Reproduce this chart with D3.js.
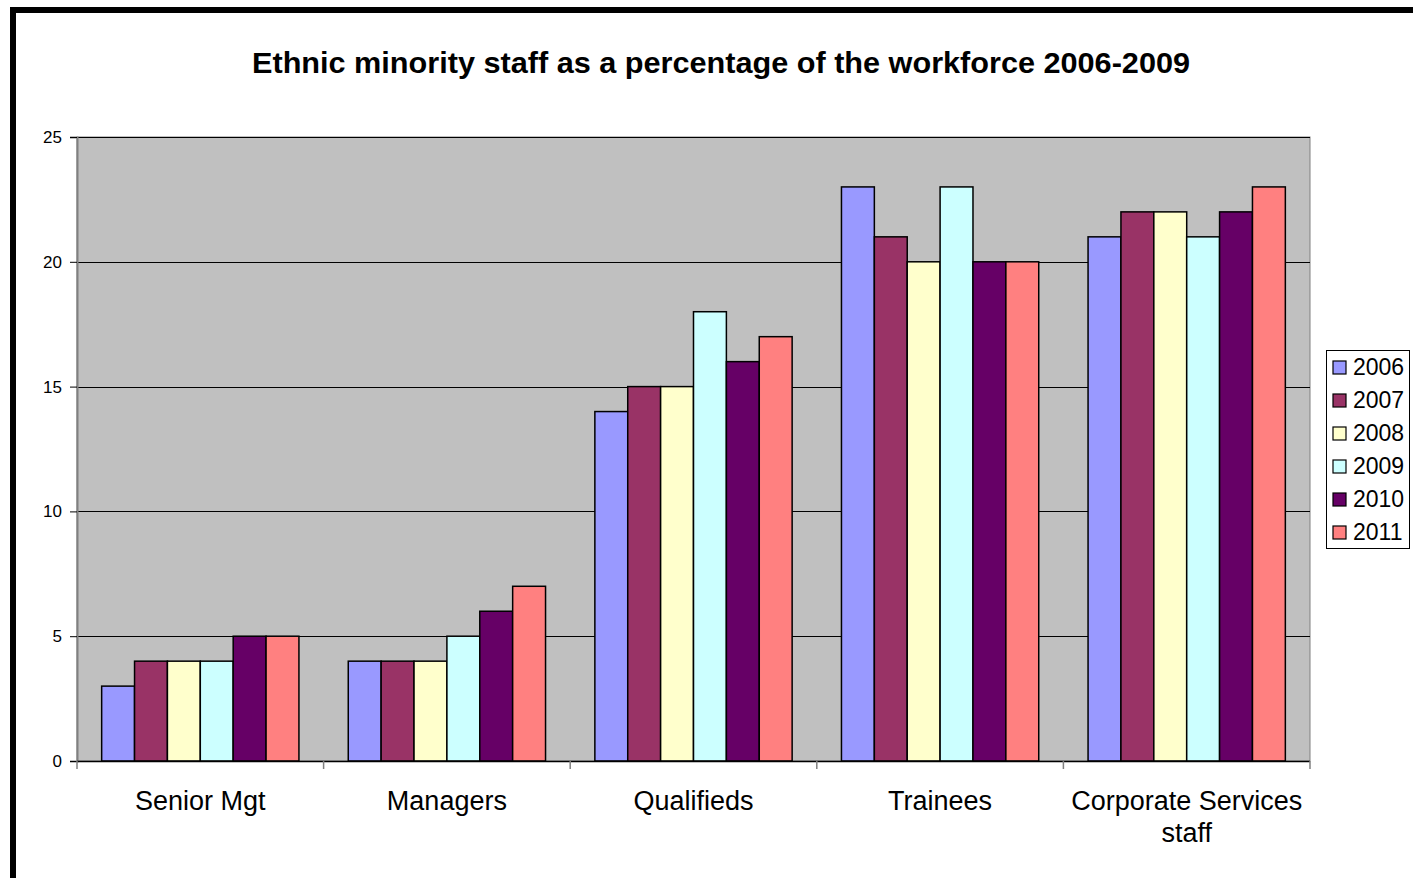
<!DOCTYPE html>
<html lang="en">
<head>
<meta charset="UTF-8">
<script src="https://cdn.jsdelivr.net/npm/d3@7/dist/d3.min.js"></script>
<style>
  body { margin: 0; background: #fff; }
  svg { display: block; font-family: "Liberation Sans", Arial, sans-serif; }
</style>
</head>
<body>
<svg></svg>
<script>
var categories = ["Senior Mgt", "Managers", "Qualifieds", "Trainees", "Corporate Services staff"];
var years = ["2006", "2007", "2008", "2009", "2010", "2011"];
var v2006 = [3, 4, 14, 23, 21];
var v2007 = [4, 4, 15, 21, 22];
var v2008 = [4, 4, 15, 20, 22];
var v2009 = [4, 5, 18, 23, 21];
var v2010 = [5, 6, 16, 20, 22];
var v2011 = [5, 7, 17, 20, 23];
var yTicks = [0, 5, 10, 15, 20, 25];
var colors = ["#9999FF", "#993366", "#FFFFCC", "#CCFFFF", "#660066", "#FF8080"];

var series = [v2006, v2007, v2008, v2009, v2010, v2011];

var W = 1413, H = 878;
var svg = d3.select("svg").attr("width", W).attr("height", H);

// outer frame
svg.append("rect").attr("x", 13).attr("y", 10).attr("width", W + 20).attr("height", H + 20)
  .attr("fill", "#fff").attr("stroke", "#000").attr("stroke-width", 6);

var plot = {left: 77, top: 137, right: 1310, bottom: 761};

svg.append("text").attr("x", 721).attr("y", 73).attr("text-anchor", "middle")
  .attr("font-size", 29).attr("font-weight", "bold")
  .attr("textLength", 938).attr("lengthAdjust", "spacingAndGlyphs")
  .text("Ethnic minority staff as a percentage of the workforce 2006-2009");

var x0 = d3.scaleBand().domain(categories).range([plot.left, plot.right]).paddingInner(0).paddingOuter(0);
var barW = x0.bandwidth() / 7.5;
var x1 = d3.scaleBand().domain(years).range([0, barW * 6]);
var y = d3.scaleLinear().domain([0, 25]).range([plot.bottom, plot.top]);

svg.append("rect").attr("x", plot.left).attr("y", plot.top)
  .attr("width", plot.right - plot.left).attr("height", plot.bottom - plot.top)
  .attr("fill", "#C0C0C0").attr("stroke", "#808080").attr("stroke-width", 1);

// gridlines
svg.append("g").selectAll("line").data(yTicks.slice(1)).enter().append("line")
  .attr("x1", plot.left).attr("x2", plot.right)
  .attr("y1", function(d) { return Math.round(y(d)) + 0.5; })
  .attr("y2", function(d) { return Math.round(y(d)) + 0.5; })
  .attr("stroke", "#000").attr("stroke-width", 1);

// bars
var groups = svg.append("g").selectAll("g").data(categories).enter().append("g")
  .attr("transform", function(d) { return "translate(" + (x0(d) + barW * 0.75) + ",0)"; });

groups.selectAll("rect").data(function(c, ci) {
    return years.map(function(yr, si) { return {yr: yr, v: series[si][ci], i: si}; });
  }).enter().append("rect")
  .attr("x", function(d) { return x1(d.yr); })
  .attr("y", function(d) { return y(d.v); })
  .attr("width", x1.bandwidth())
  .attr("height", function(d) { return plot.bottom - y(d.v); })
  .attr("fill", function(d) { return colors[d.i]; })
  .attr("stroke", "#000").attr("stroke-width", 1.5);

// y axis
var yAxis = d3.axisLeft(y).tickValues(yTicks).tickSize(7).tickPadding(8).tickFormat(d3.format("d"));
var ya = svg.append("g").attr("transform", "translate(" + plot.left + ",0)").call(yAxis);
ya.select(".domain").attr("stroke", "#808080").attr("stroke-width", 2);
ya.selectAll("line").attr("stroke", "#000");
ya.selectAll("text").attr("font-size", 17).attr("fill", "#000").attr("font-family", "Liberation Sans, Arial, sans-serif");

// x axis line and ticks at category boundaries
var xa = svg.append("g");
xa.append("line").attr("x1", plot.left).attr("x2", plot.right)
  .attr("y1", plot.bottom + 0.5).attr("y2", plot.bottom + 0.5).attr("stroke", "#000").attr("stroke-width", 1.5);
var bounds = categories.map(function(c) { return x0(c); }).concat([plot.right]);
xa.selectAll("line.tk").data(bounds).enter().append("line").attr("class", "tk")
  .attr("x1", function(d) { return d; }).attr("x2", function(d) { return d; })
  .attr("y1", plot.bottom).attr("y2", plot.bottom + 8)
  .attr("stroke", "#808080").attr("stroke-width", 1.5);

// category labels
var labelWrap = {"Corporate Services staff": ["Corporate Services", "staff"]};
xa.selectAll("text").data(categories).enter().append("text")
  .attr("x", function(d) { return x0(d) + x0.bandwidth() / 2; })
  .attr("y", 810).attr("text-anchor", "middle").attr("font-size", 27)
  .each(function(d) {
    var lines = labelWrap[d] || [d];
    var t = d3.select(this);
    lines.forEach(function(l, i) {
      t.append("tspan").attr("x", x0(d) + x0.bandwidth() / 2).attr("dy", i === 0 ? 0 : 32).text(l);
    });
  });

// legend
var leg = svg.append("g").attr("transform", "translate(1326,350)");
leg.append("rect").attr("x", 0.5).attr("y", 0.5).attr("width", 83).attr("height", 198)
  .attr("fill", "#fff").attr("stroke", "#000").attr("stroke-width", 1);
var li = leg.selectAll("g").data(years).enter().append("g")
  .attr("transform", function(d, i) { return "translate(0," + (17 + i * 33) + ")"; });
li.append("rect").attr("x", 7).attr("y", -6).attr("width", 13).attr("height", 13)
  .attr("fill", function(d, i) { return colors[i]; }).attr("stroke", "#000").attr("stroke-width", 1.2);
li.append("text").attr("x", 27).attr("y", 8).attr("font-size", 23).text(function(d) { return d; });
</script>
</body>
</html>
